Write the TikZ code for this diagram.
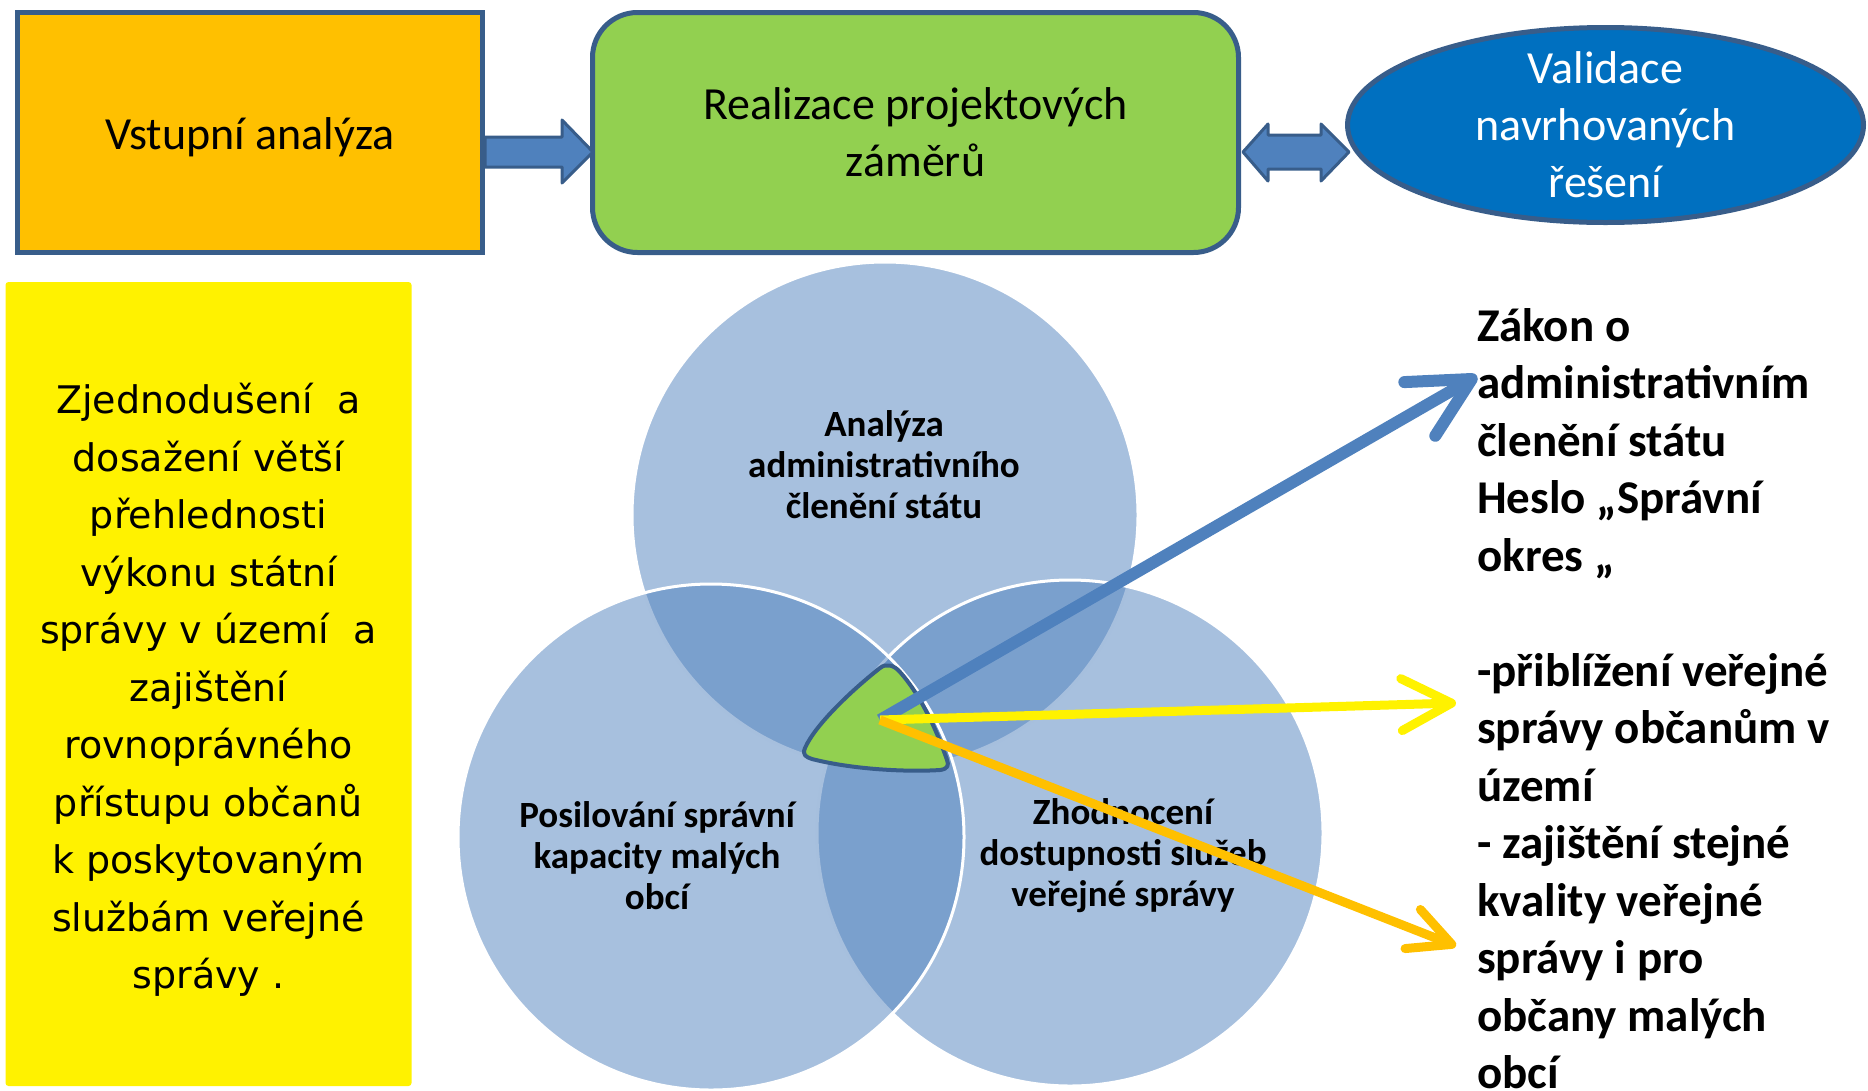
\documentclass[tikz,border=0pt]{standalone}
\usepackage{fontspec}
\setmainfont{Carlito}
\newfontfamily\boxfont{DejaVu Sans}
\usetikzlibrary{arrows.meta,shapes.geometric}
\definecolor{frameblue}{HTML}{385D8A}
\definecolor{fillblue}{HTML}{4F81BD}
\definecolor{boxorange}{HTML}{FFC000}
\definecolor{boxgreen}{HTML}{92D050}
\definecolor{ovalblue}{HTML}{0070C0}
\tikzstyle{topbox} = [draw=frameblue,line width=5pt,inner sep=0pt,align=center,font=\fontsize{46}{57}\selectfont]
\tikzstyle{blockarrow} = [fill=fillblue,draw=frameblue,line width=3pt,line join=round]
\tikzstyle{venn} = [circle,minimum size=506pt,inner sep=0pt,fill=fillblue,fill opacity=0.5,draw=white,line width=3pt]
\tikzstyle{venntext} = [inner sep=0pt,align=center,font=\bfseries\fontsize{37}{41}\selectfont]
\tikzstyle{blueray} = [draw=fillblue,line width=12pt,-{Straight Barb[length=60pt,width=62pt,round]}]
\tikzstyle{yellowray} = [draw=yellow,line width=9pt,-{Straight Barb[length=50pt,width=52pt,round]}]
\tikzstyle{orangeray} = [draw=boxorange,line width=9pt,-{Straight Barb[length=42pt,width=42pt,round]}]

\begin{document}
\begin{tikzpicture}[x=1pt,y=-1pt]
    \useasboundingbox (0,0) rectangle (1868,1090);
    % goal box on the left
    \node[fill=yellow,rounded corners=3pt,minimum width=406pt,minimum height=804pt,inner sep=0pt] (cil) at (208.5,684) {};
    \node[inner sep=0pt,align=center,font=\boxfont\fontsize{38}{57.5}\selectfont] (ciltext) at ([yshift=-6pt]cil.center)
      {Zjednodušení\ \ a\\dosažení větší\\přehlednosti\\výkonu státní\\správy v území\ \ a\\zajištění\\rovnoprávného\\přístupu občanů\\k poskytovaným\\službám veřejné\\správy .};
    % top row
    \node[topbox,fill=boxorange,minimum width=465pt,minimum height=240pt] (va) at (250,132.5) {};
    \node[inner sep=0pt,font=\fontsize{46}{57}\selectfont] (vatext) at ([yshift=-5pt]va.center) {Vstupní analýza};
    \node[topbox,fill=boxgreen,rounded corners=45pt,minimum width=646pt,minimum height=240pt] (rz) at (915.5,132.5)
      {Realizace projektových\\záměrů};
    \node[topbox,ellipse,fill=ovalblue,minimum width=516pt,minimum height=195pt] (val) at (1605.5,125) {};
    \node[inner sep=0pt,align=center,text=white,font=\fontsize{46}{57}\selectfont] (valtext) at (val.center) {Validace\\navrhovaných\\řešení};
    \draw[blockarrow] (va.east) ++(0,4.5) -- ++(77,0) -- ++(0,-17) -- ++(31,32) -- ++(-31,31)
      -- ++(0,-16) -- ++(-77,0) -- cycle;
    \draw[blockarrow] (rz.east) ++(2,19.5) -- ++(25,-28) -- ++(0,11) -- ++(53,0) -- ++(0,-11)
      -- ++(28,28) -- ++(-28,29) -- ++(0,-12) -- ++(-53,0) -- ++(0,12) -- cycle;
    % three circles
    \node[venn] (ca) at (885,515) {};
    \node[venn] (cr) at (1070,833) {};
    \node[venn] (cl) at (711,837) {};
    \node[venntext] (ta) at (884,465) {Analýza\\administrativního\\členění státu};
    \node[venntext] (tl) at (657,856) {Posilování správní\\kapacity malých\\obcí};
    \node[venntext] (tr) at (1123,856) {Zhodnocení\\dostupnosti služeb\\veřejné správy};
    % middle piece
    \draw[fill=boxgreen,draw=frameblue,line width=4pt,line join=round]
      (880,668) .. controls (852,690) and (815,725) .. (805,748)
      .. controls (802,755) and (806,757) .. (812,759)
      .. controls (855,770) and (910,772) .. (940,770)
      .. controls (948,769) and (949,765) .. (947,760)
      .. controls (935,725) and (918,692) .. (900,672)
      .. controls (894,665) and (886,663) .. (880,668) -- cycle;
    \coordinate (hub) at (880,720);
    \coordinate (zakon) at (1477,376);
    \coordinate (blizko) at (1456,703);
    \coordinate (kvalita) at (1456,946);
    \draw[blueray] (hub) -- (zakon);
    \draw[yellowray] (hub) -- (blizko);
    \draw[orangeray] (hub) -- (kvalita);
    % text on the right
    \node[anchor=north west,inner sep=0pt,align=left,font=\bfseries\fontsize{47}{57.5}\selectfont] (vysledky) at (1477,308)
      {Zákon o\\administrativním\\členění státu\\Heslo „Správní\\okres „\\[57.5pt]-přiblížení veřejné\\správy občanům v\\území\\- zajištění stejné\\kvality veřejné\\správy i pro\\občany malých\\obcí};
\end{tikzpicture}
\end{document}
